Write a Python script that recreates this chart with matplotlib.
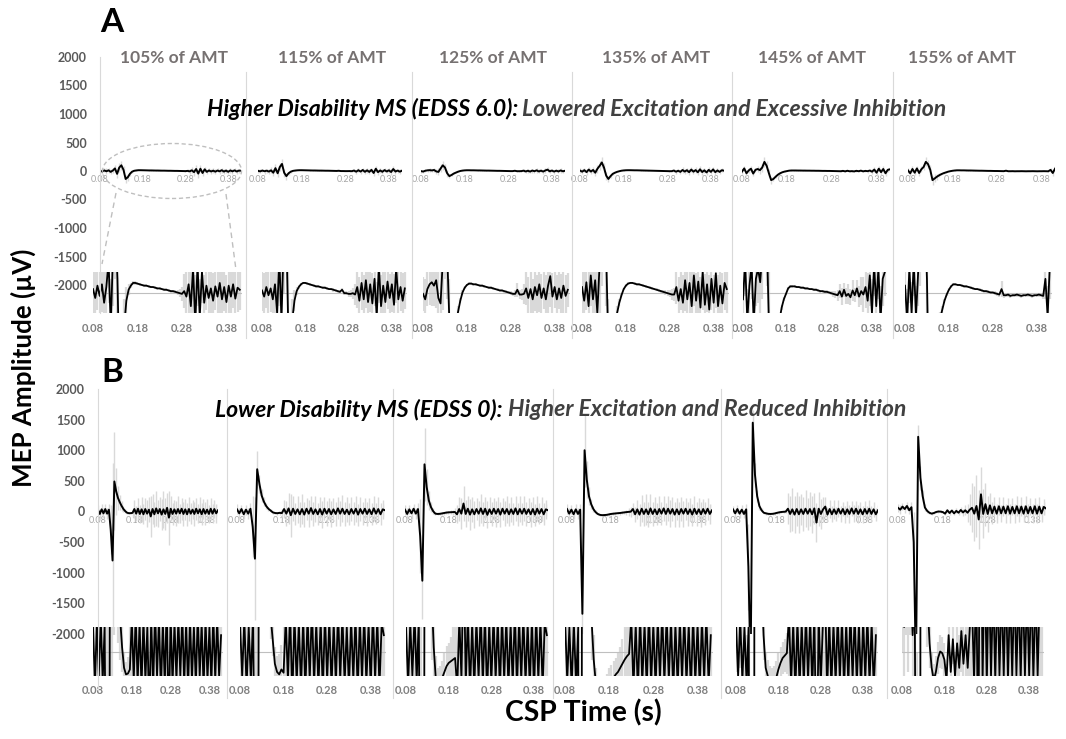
import numpy as np
import matplotlib.pyplot as plt
from matplotlib.lines import Line2D
from matplotlib.patches import Ellipse

plt.rcParams['font.family'] = ['Lato', 'DejaVu Sans']

# sampling times of the averaged traces (s)
T = np.round(np.arange(0.08, 0.4101, 0.005), 3)
XT = [0.08, 0.18, 0.28, 0.38]
XL = ['0.08', '0.18', '0.28', '0.38']
YT = [-2000, -1500, -1000, -500, 0, 500, 1000, 1500, 2000]

amt_labels = ['105% of AMT', '115% of AMT', '125% of AMT', '135% of AMT', '145% of AMT', '155% of AMT']

# ---- panel A: higher disability, mean MEP (uV) and trial spread (uV) ----
a1 = [5, -8, 10, -5, 12, -15, 8, 45, -50, 60,
      100, 20, -140, -110, -50, -12, 4, 10, 14, 14,
      13, 12, 11, 10, 10, 9, 8, 8, 7, 6,
      6, 5, 4, 4, 3, 2, 2, 1, 0, -1,
      -2, 2, -6, 12, -20, 35, -45, 40, -35, 30,
      -15, 10, -8, 6, -12, 9, -6, 14, -10, 8,
      -14, 10, -6, 12, -9, 7, 4]
a2 = [3, -6, 8, -4, 6, -10, 12, -30, 50, -40,
      70, 124, -30, -90, -40, -12, 2, 8, 12, 14,
      14, 13, 12, 11, 10, 9, 9, 8, 7, 7,
      6, 5, 5, 4, 3, 2, 1, 4, -1, -1,
      -2, -2, -1, -3, 8, -12, 14, -10, 18, -14,
      12, -16, 20, -35, 40, -20, 10, -14, 16, -8,
      12, -18, 35, -10, 8, -12, 6]
a3 = [-2, -10, 5, 12, 15, 10, 18, -8, -16, 45,
      100, 60, -40, -90, -70, -45, -28, -12, 0, 7,
      11, 13, 13, 12, 12, 11, 10, 10, 9, 8,
      7, 7, 6, 5, 4, 3, 3, 2, 1, 0,
      -1, -2, -2, 4, -3, -3, -2, 6, -8, 5,
      -10, 8, -4, 12, -8, 6, -10, 10, 24, -6,
      8, -10, 6, -8, 10, -5, 4]
a4 = [8, -12, 15, -20, 25, -10, 18, -30, 40, 90,
      150, 60, -80, -140, -90, -50, -30, -15, -4, 5,
      10, 13, 14, 14, 13, 12, 12, 11, 10, 9,
      8, 7, 6, 5, 4, 3, 2, 1, 0, -1,
      -2, -3, -3, 8, -12, 5, -15, 18, -10, 14,
      -20, 25, -12, 16, -22, 30, -18, 12, -25, 20,
      -15, 28, -20, 10, -16, 14, 5]
a5 = [-10, 45, -40, 10, 40, -45, 20, 35, 15, 60,
      160, 90, -40, -160, -140, -100, -65, -40, -22, -10,
      -2, 6, 9, 9, 9, 8, 8, 7, 7, 6,
      6, 5, 5, 4, 4, 3, 2, 2, 1, 1,
      0, -1, -2, -3, -4, 2, -6, 4, -5, -2,
      -7, 3, -4, 6, -6, 2, -3, 8, -12, 25,
      -30, 40, -20, 35, -40, 20, 30]
a6 = [10, -40, 35, -30, 45, -35, 30, 70, 160, 120,
      20, -160, -130, -100, -75, -55, -38, -25, -12, -3,
      4, 9, 12, 12, 11, 11, 10, 9, 9, 8,
      7, 6, 5, 5, 4, 3, 2, 2, 1, 0,
      0, -1, -2, -3, 5, -4, -4, -3, -5, -4,
      -4, -3, -4, -5, -4, -4, -3, -4, -5, -4,
      -4, -3, -4, -5, 20, -35, 40]

a1_sd = [40, 45, 35, 50, 40, 45, 50, 60, 70, 80,
         80, 70, 70, 60, 40, 20, 8, 4, 3, 3,
         2, 2, 2, 2, 2, 2, 2, 2, 2, 2,
         2, 2, 2, 2, 2, 2, 2, 3, 4, 6,
         10, 25, 40, 50, 60, 70, 70, 60, 55, 45,
         40, 35, 40, 45, 40, 35, 40, 45, 40, 35,
         40, 45, 40, 35, 40, 35, 30]
a2_sd = [30, 35, 30, 40, 35, 45, 50, 60, 70, 70,
         70, 80, 70, 60, 30, 15, 6, 3, 2, 2,
         2, 2, 2, 2, 2, 2, 2, 2, 2, 2,
         2, 2, 2, 3, 2, 2, 2, 2, 2, 3,
         4, 5, 8, 15, 30, 35, 40, 35, 40, 45,
         40, 45, 40, 50, 55, 45, 40, 45, 40, 35,
         40, 45, 50, 40, 35, 40, 30]
a3_sd = [25, 30, 25, 30, 35, 30, 40, 50, 60, 70,
         80, 70, 60, 40, 25, 15, 8, 4, 3, 2,
         2, 2, 2, 2, 2, 2, 2, 2, 2, 2,
         2, 2, 2, 2, 2, 2, 2, 2, 2, 2,
         3, 3, 5, 10, 6, 8, 15, 25, 30, 35,
         30, 35, 30, 40, 35, 30, 35, 40, 45, 35,
         30, 35, 30, 35, 40, 30, 25]
a4_sd = [40, 45, 40, 50, 45, 40, 50, 60, 70, 80,
         90, 80, 70, 60, 35, 20, 10, 5, 3, 2,
         2, 2, 2, 2, 2, 2, 2, 2, 2, 2,
         2, 2, 2, 2, 2, 2, 2, 3, 3, 4,
         5, 8, 10, 25, 35, 30, 40, 45, 40, 45,
         50, 45, 40, 50, 45, 55, 45, 40, 50, 45,
         40, 50, 45, 40, 45, 40, 35]
a5_sd = [40, 50, 45, 40, 50, 45, 40, 50, 60, 70,
         90, 80, 70, 60, 40, 25, 12, 6, 4, 3,
         2, 2, 2, 2, 2, 2, 2, 2, 2, 2,
         2, 2, 2, 2, 2, 2, 2, 2, 2, 2,
         2, 3, 4, 5, 8, 10, 12, 10, 12, 15,
         12, 15, 10, 12, 15, 20, 25, 30, 40, 45,
         50, 45, 50, 45, 50, 40, 35]
a6_sd = [50, 45, 50, 45, 50, 45, 50, 60, 80, 80,
         80, 80, 70, 50, 35, 20, 10, 5, 3, 2,
         2, 2, 2, 2, 2, 2, 2, 2, 2, 2,
         2, 2, 2, 2, 2, 2, 2, 2, 2, 2,
         2, 3, 3, 3, 12, 4, 3, 3, 3, 3,
         3, 3, 3, 3, 3, 3, 3, 3, 3, 3,
         3, 3, 3, 5, 30, 45, 50]

# ---- panel B: lower disability ----
b1 = [30, -40, 35, -30, 40, -35, 30, -300, -800, 490,
      330, 220, 150, 90, 40, 5, -20, -28, -27, -22,
      40, -35, 45, -40, 35, -45, 40, -35, 30, -80,
      40, -45, 50, -30, 40, -50, 35, -40, 60, -100,
      45, -40, 35, -35, 40, -30, 45, -40, 35, -45,
      40, -35, 30, -40, 45, -30, 35, -45, 40, -35,
      30, -40, 45, -35, 40, -30, 20]
b2 = [35, -30, 40, -45, 30, -35, 45, -250, -770, 690,
      450, 260, 160, 90, 45, 15, -15, -25, -28, -22,
      -26, 40, -35, 50, -60, 45, -40, 35, -45, 40,
      -50, 45, -35, 55, -40, 35, -45, 40, -50, 45,
      -35, 40, -45, 35, -40, 50, -35, 45, -40, 30,
      -45, 40, -35, 45, -50, 40, -35, 45, -40, 35,
      -45, 50, -35, 40, -45, 35, 20]
b3 = [30, -40, 35, -30, 45, -35, 40, -400, -1130, 770,
      400, 180, 70, 5, -35, -40, -38, -32, -25, -18,
      -14, -12, -10, -8, -45, 40, -35, 130, -40, 45,
      -50, 35, -45, 40, -35, 50, -40, 45, -55, 35,
      -40, 45, -35, 40, -50, 45, -35, 40, -45, 35,
      -40, 50, -45, 40, -35, 45, -40, 35, -45, 40,
      -50, 45, -35, 40, -45, 35, 20]
b4 = [40, -35, 30, -45, 35, -40, 30, -1670, 1000, 520,
      250, 120, 40, -10, -40, -55, -60, -58, -55, -48,
      -40, -36, -32, -28, -25, -20, -15, -10, -6, -3,
      40, -45, 35, -50, 45, -40, 35, -45, 50, -40,
      35, -45, 40, -35, 50, -40, 45, -35, 40, -50,
      35, -45, 40, -35, 45, -40, 35, -50, 45, -40,
      35, -45, 40, -35, 45, -40, 20]
b5 = [35, -30, 40, -35, 30, -40, 35, -900, -2600, 1450,
      600, 250, 90, 20, -20, -30, -38, -40, -38, -32,
      -22, -14, -8, -5, -2, 45, -40, 35, -50, 40,
      -45, 35, -40, 45, -35, 40, -45, 50, -180, 45,
      -40, 35, 80, -50, 40, -45, 35, -40, 45, -35,
      40, -45, 35, -40, 50, -35, 45, -40, 35, -45,
      40, -35, 45, -40, 35, -45, 20]
b6 = [60, 30, 80, 40, 90, 20, 70, -500, -2600, 1220,
      550, 250, 65, 10, -20, -35, -25, -8, 0, -2,
      -10, -35, 20, -25, 15, -30, 10, -20, 25, -15,
      20, -20, 30, 60, -35, 90, -130, 280, -40, 120,
      -40, 100, -30, 80, -35, 85, -30, 80, -30, 85,
      -35, 75, -30, 85, -30, 80, -35, 85, -30, 75,
      -30, 85, -35, 80, -30, 75, 50]

b1_sd = [80, 70, 90, 80, 75, 85, 90, 400, 1600, 800,
         380, 200, 120, 80, 50, 30, 20, 15, 20, 60,
         150, 120, 180, 150, 200, 160, 180, 220, 200, 330,
         250, 200, 280, 220, 200, 250, 300, 260, 250, 440,
         200, 180, 160, 200, 220, 160, 180, 200, 170, 190,
         200, 170, 160, 190, 180, 160, 200, 180, 160, 190,
         170, 150, 180, 160, 140, 150, 100]
b2_sd = [80, 90, 70, 85, 80, 90, 100, 500, 1000, 300,
         150, 100, 70, 50, 30, 20, 20, 20, 25, 30,
         60, 150, 200, 250, 350, 200, 180, 220, 200, 250,
         200, 180, 220, 200, 190, 210, 180, 200, 220, 190,
         200, 180, 210, 190, 200, 180, 200, 220, 190, 200,
         180, 200, 190, 210, 180, 200, 190, 180, 200, 190,
         180, 200, 170, 190, 180, 160, 100]
b3_sd = [80, 90, 70, 85, 80, 90, 100, 600, 620, 600,
         300, 150, 80, 50, 30, 20, 20, 20, 25, 25,
         25, 30, 40, 60, 150, 200, 250, 280, 220, 200,
         250, 200, 220, 180, 200, 230, 200, 190, 220, 200,
         200, 180, 210, 190, 200, 180, 200, 220, 190, 200,
         180, 200, 190, 210, 180, 200, 190, 180, 200, 190,
         180, 200, 170, 190, 180, 160, 100]
b4_sd = [80, 90, 70, 85, 80, 90, 100, 500, 600, 300,
         150, 80, 50, 30, 20, 20, 20, 20, 20, 20,
         20, 20, 20, 20, 25, 25, 30, 40, 60, 80,
         100, 120, 150, 180, 220, 200, 250, 200, 230, 200,
         200, 180, 210, 190, 200, 180, 200, 220, 190, 200,
         180, 200, 190, 210, 180, 200, 190, 180, 200, 190,
         180, 200, 170, 190, 180, 160, 100]
b5_sd = [60, 70, 60, 65, 70, 60, 80, 700, 400, 200,
         200, 100, 60, 30, 20, 20, 20, 20, 20, 20,
         20, 20, 20, 20, 25, 250, 300, 350, 300, 280,
         300, 250, 280, 300, 260, 280, 300, 250, 320, 280,
         250, 200, 150, 120, 140, 130, 150, 120, 140, 130,
         120, 140, 130, 150, 120, 140, 130, 150, 120, 140,
         130, 120, 140, 130, 120, 110, 80]
b6_sd = [60, 70, 60, 65, 70, 60, 80, 500, 300, 200,
         200, 100, 60, 30, 20, 20, 20, 20, 20, 20,
         20, 20, 25, 25, 30, 30, 40, 40, 50, 60,
         80, 150, 250, 400, 450, 500, 480, 450, 400, 350,
         300, 200, 180, 150, 160, 150, 140, 150, 160, 140,
         150, 140, 150, 160, 140, 150, 140, 160, 150, 140,
         150, 140, 160, 150, 140, 130, 100]

panel_a = [(a1, a1_sd), (a2, a2_sd), (a3, a3_sd), (a4, a4_sd), (a5, a5_sd), (a6, a6_sd)]
panel_b = [(b1, b1_sd), (b2, b2_sd), (b3, b3_sd), (b4, b4_sd), (b5, b5_sd), (b6, b6_sd)]

# ---- layout (pixels) ----
W, H = 1066, 739
fig = plt.figure(figsize=(W / 100, H / 100), dpi=100)


def box(x0, y0, x1, y1):
    return [x0 / W, 1 - y1 / H, (x1 - x0) / W, (y1 - y0) / H]


def fig_line(x0, y0, x1, y1, **kw):
    fig.add_artist(Line2D([x0 / W, x1 / W], [1 - y0 / H, 1 - y1 / H],
                          transform=fig.transFigure, **kw))


def clean(ax):
    for sp in ax.spines.values():
        sp.set_visible(False)
    ax.patch.set_visible(False)
    ax.set_yticks([])


def main_trace(xs, ytop, ybot, y, sd):
    ax = fig.add_axes(box(xs[0], ytop, xs[1], ybot))
    y = np.array(y); sd = np.array(sd)
    ax.vlines(T, y - sd, y + sd, color='#d9d9d9', lw=1.0)
    ax.plot(T, y, color='black', lw=1.4)
    ax.set_xlim(0.08, 0.41)
    ax.set_ylim(-2000, 2000)
    clean(ax)
    ax.spines['bottom'].set_position(('data', 0))
    ax.set_xticks(XT)
    ax.set_xticklabels(XL, fontsize=6.5, color='#a6a6a6')
    ax.tick_params(axis='x', length=0, pad=3)


def zoom_trace(xs, ytop, ybot, y, sd, pad):
    ax = fig.add_axes(box(xs[0], ytop, xs[1], ybot))
    y = np.array(y); sd = np.array(sd)
    ax.vlines(T, y - sd, y + sd, color='#d9d9d9', lw=1.6)
    ax.axhline(0, color='#bfbfbf', lw=0.8)
    ax.plot(T, y, color='black', lw=1.3)
    ax.set_xlim(0.08, 0.415)
    ax.set_ylim(-30, 30)
    clean(ax)
    ax.set_xticks(XT)
    ax.set_xticklabels(XL, fontsize=8, color='#7f7f7f', fontweight='bold')
    ax.tick_params(axis='x', length=0, pad=pad)


def frame(x0, ytop, ybot):
    ax = fig.add_axes(box(x0, ytop, 1060, ybot))
    ax.set_ylim(-2000, 2000)
    ax.set_xticks([])
    for sp in ax.spines.values():
        sp.set_visible(False)
    ax.patch.set_visible(False)
    ax.set_yticks(YT)
    ax.set_yticklabels([str(v) for v in YT], fontsize=9, color='#595959', fontweight='bold')
    ax.tick_params(axis='y', length=0, pad=9.5)


a_main = [(100, 241), (258, 402), (421, 565), (580, 724), (742, 890), (908, 1055)]
a_zoom = [(93, 242), (262, 407), (423, 570), (582, 729), (743, 887), (905, 1052)]
b_main = [(98, 218), (237, 385), (405, 548), (567, 712), (733, 878), (898, 1046)]
b_zoom = [(93, 223), (240, 386), (406, 549), (565, 713), (736, 878), (902, 1044)]

grid = '#d9d9d9'
# axis lines and column separators
fig_line(100, 57, 100, 313, color=grid, lw=0.8)
for x in [246, 412, 572, 732, 893]:
    fig_line(x, 72, x, 338, color=grid, lw=0.8)
fig_line(98, 389, 98, 690, color=grid, lw=0.8)
for x in [227, 393, 553, 721, 887]:
    fig_line(x, 389, x, 698, color=grid, lw=0.8)

frame(100, 57, 285)
frame(98, 389, 634)

for i, (y, sd) in enumerate(panel_a):
    main_trace(a_main[i], 57, 285, y, sd)
    zoom_trace(a_zoom[i], 272, 313, y, sd, 7)
for i, (y, sd) in enumerate(panel_b):
    main_trace(b_main[i], 389, 634, y, sd)
    zoom_trace(b_zoom[i], 627, 676, y, sd, 6.5)

# zoom marker on first column of panel A
fig.add_artist(Ellipse((172 / W, 1 - 171 / H), 139 / W, 55 / H, transform=fig.transFigure,
                       fill=False, ls=(0, (3, 2)), ec='#bfbfbf', lw=1))
fig_line(116, 193, 102, 264, color='#bfbfbf', lw=1, ls=(0, (4, 3)))
fig_line(226, 194, 236, 270, color='#bfbfbf', lw=1, ls=(0, (4, 3)))

# ---- texts ----
renderer = fig.canvas.get_renderer()


def fit(t, target, vertical=False):
    bb = t.get_window_extent(renderer)
    cur = bb.height if vertical else bb.width
    t.set_fontsize(t.get_fontsize() * target / cur)
    return t


for cx, lab in zip([174, 332, 493, 656, 812, 962], amt_labels):
    fit(fig.text(cx / W, 1 - 58 / H, lab, ha='center', va='center',
                 fontweight='bold', color='#767171', fontsize=12), 108)


def two_tone(x0, x1, yc, part1, part2):
    full = fig.text(x0 / W, 1 - yc / H, part1 + part2, ha='left', va='center',
                    fontweight='bold', fontstyle='italic', fontsize=13)
    fit(full, x1 - x0)
    fs = full.get_fontsize()
    full.remove()
    fig.text(x0 / W, 1 - yc / H, part1, ha='left', va='center', fontweight='bold',
             fontstyle='italic', fontsize=fs, color='black')
    fig.text(x1 / W, 1 - yc / H, part2, ha='right', va='center', fontweight='bold',
             fontstyle='italic', fontsize=fs, color='#404040')


two_tone(207, 946, 109, 'Higher Disability MS (EDSS 6.0): ',
         'Lowered Excitation and Excessive Inhibition')
two_tone(215, 906, 410, 'Lower Disability MS (EDSS 0): ',
         'Higher Excitation and Reduced Inhibition')

fig.text(112 / W, 1 - 22 / H, 'A', ha='center', va='center', fontsize=24, fontweight='bold')
fig.text(112 / W, 1 - 373 / H, 'B', ha='center', va='center', fontsize=24, fontweight='bold')

fit(fig.text(23 / W, 1 - 368 / H, 'MEP Amplitude (µV)', rotation=90, ha='center', va='center',
             fontweight='bold', fontsize=17), 237, vertical=True)
fit(fig.text(583 / W, 1 - 713 / H, 'CSP Time (s)', ha='center', va='center',
             fontweight='bold', fontsize=17), 157)

fig.savefig('out.png', dpi=100)
